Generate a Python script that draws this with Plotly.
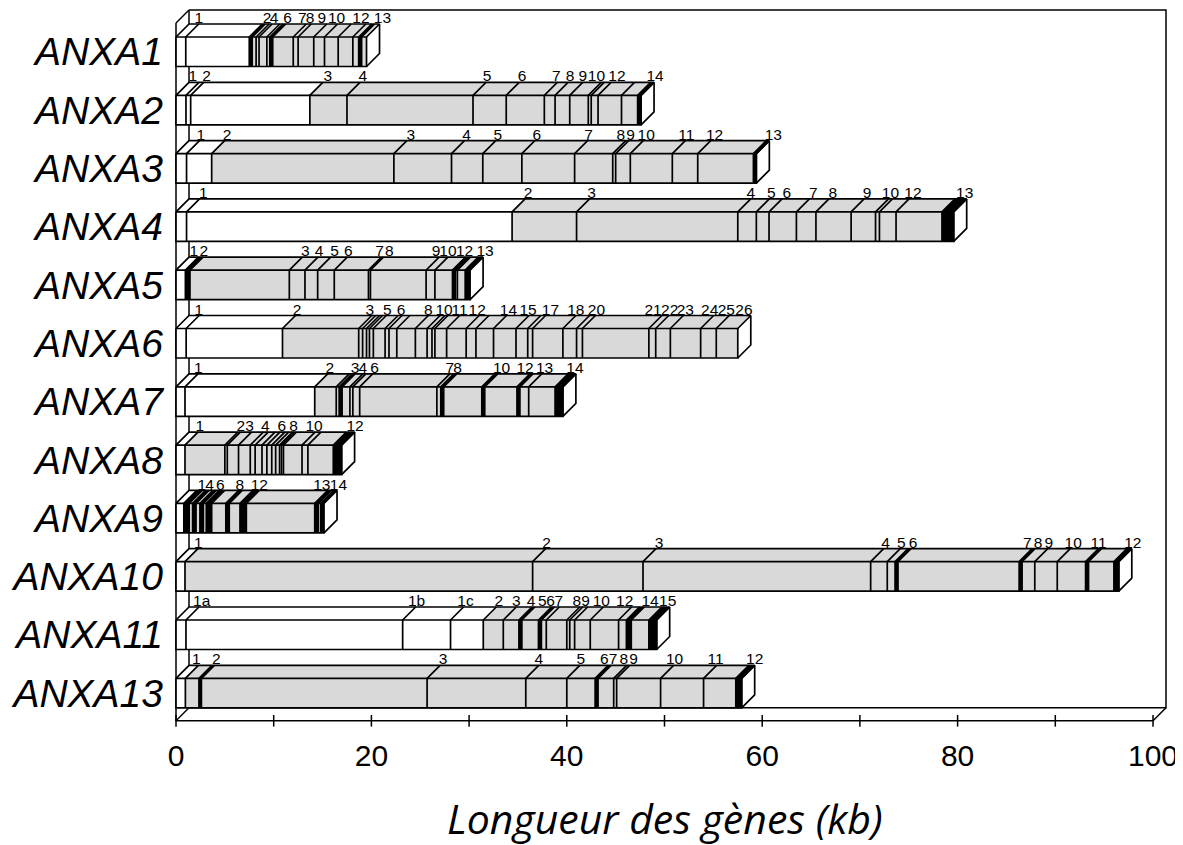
import plotly.graph_objects as go

# ---------------- data (kb) ----------------
GENES = ["ANXA1", "ANXA2", "ANXA3", "ANXA4", "ANXA5", "ANXA6",
         "ANXA7", "ANXA8", "ANXA9", "ANXA10", "ANXA11", "ANXA13"]

GENE_LENGTH = [19.5, 47.6, 59.4, 79.6, 30.1, 57.5, 39.6, 16.95, 15.15, 96.5, 49.2, 57.9]

# end of the white (non-coding) part of each gene
NONCODING_END = [7.6, 13.7, 3.65, 34.4, 0.96, 10.9, 14.2, 0.92, 0.8, 0.92, 31.45, 0.96]

# exon boundaries drawn as thin lines
EXON_LINES = [
    [1.0, 8.2, 8.5, 9.3, 12.0, 12.5, 14.1, 15.2, 16.6, 18.1],
    [1.02, 1.5, 13.7, 17.5, 30.4, 33.8, 37.7, 38.8, 40.3, 42.2, 42.5, 43.2, 45.6],
    [1.08, 3.65, 22.3, 28.2, 31.4, 35.4, 40.8, 44.7, 45.0, 46.5, 50.8, 53.4],
    [1.08, 34.4, 41.0, 57.5, 59.4, 60.7, 63.5, 65.5, 69.1, 71.6, 72.0, 73.7],
    [11.6, 13.2, 14.5, 16.2, 19.7, 19.9, 25.6, 26.5, 28.8],
    [1.04, 10.9, 18.7, 19.1, 19.5, 19.8, 20.2, 21.4, 21.8, 22.6, 24.5, 25.7, 26.2,
     26.5, 27.7, 29.7, 30.7, 32.5, 34.8, 36.0, 36.5, 39.6, 41.0, 41.6, 48.4, 49.1,
     50.6, 53.7, 55.3],
    [0.92, 14.2, 16.4, 17.8, 18.1, 18.8, 26.7, 36.1],
    [0.92, 5.0, 5.25, 6.4, 7.6, 8.1, 8.8, 9.3, 9.8, 10.2, 10.6, 10.8, 11.0, 12.9, 13.5],
    [],
    [0.92, 36.5, 47.8, 71.1, 72.8, 87.9, 90.2],
    [1.02, 23.2, 28.1, 31.45, 33.5, 37.9, 40.0, 40.3, 40.8, 42.4, 45.3, 46.6],
    [0.96, 25.7, 35.8, 40.0, 44.8, 45.1, 49.6, 54.0],
]

# black (solid) exons: (start, end)
BLACK_EXONS = [
    [(7.5, 7.8), (9.6, 9.9), (18.7, 19.0)],
    [(47.25, 47.6)],
    [(59.1, 59.4)],
    [(78.4, 79.6)],
    [(0.96, 1.43), (28.3, 28.6), (29.6, 30.0)],
    [],
    [(16.7, 17.0), (27.1, 27.4), (31.3, 31.6), (34.9, 35.2), (38.8, 39.6)],
    [(16.1, 16.95)],
    [(0.8, 1.35), (1.7, 2.05), (2.45, 2.8), (3.1, 3.65), (5.1, 5.45), (6.55, 7.2),
     (14.2, 14.55), (14.8, 15.05)],
    [(73.6, 73.9), (86.3, 86.6), (93.1, 93.4), (96.0, 96.5)],
    [(35.1, 35.4), (37.1, 37.4), (46.1, 46.5), (48.4, 49.2)],
    [(2.35, 2.6), (42.9, 43.2), (57.3, 57.9)],
]

# exon numbers and where they sit (kb)
EXON_LABELS = [
    [("1", 1.0), ("2", 8.0), ("4", 8.7), ("6", 10.1), ("7", 11.6), ("8", 12.4),
     ("9", 13.6), ("10", 15.1), ("12", 17.6), ("13", 19.8)],
    [("1", 0.38), ("2", 1.81), ("3", 14.2), ("4", 17.8), ("5", 30.5), ("6", 34.1),
     ("7", 37.6), ("8", 39.0), ("9", 40.3), ("10", 41.7), ("12", 43.8), ("14", 47.7)],
    [("1", 1.2), ("2", 3.9), ("3", 22.7), ("4", 28.4), ("5", 31.6), ("6", 35.6),
     ("7", 40.9), ("8", 44.2), ("9", 45.2), ("10", 46.8), ("11", 50.9), ("12", 53.8),
     ("13", 59.8)],
    [("1", 1.46), ("2", 34.7), ("3", 41.2), ("4", 57.5), ("5", 59.6), ("6", 61.2),
     ("7", 63.9), ("8", 65.9), ("9", 69.4), ("10", 71.8), ("12", 74.1), ("13", 79.4)],
    [("1", 0.49), ("2", 1.51), ("3", 11.9), ("4", 13.3), ("5", 14.9), ("6", 16.3),
     ("7", 19.5), ("8", 20.5), ("9", 25.3), ("10", 26.5), ("12", 28.2), ("13", 30.3)],
    [("1", 1.0), ("2", 11.05), ("3", 18.5), ("5", 20.3), ("6", 21.7), ("8", 24.5),
     ("10", 26.1), ("11", 27.7), ("12", 29.5), ("14", 32.7), ("15", 34.7), ("17", 37.0),
     ("18", 39.6), ("20", 41.7), ("21", 47.5), ("22", 49.2), ("23", 50.8), ("24", 53.3),
     ("25", 55.0), ("26", 56.8)],
    [("1", 0.95), ("2", 14.4), ("3", 17.0), ("4", 17.8), ("6", 19.0), ("7", 26.7),
     ("8", 27.5), ("10", 32.0), ("12", 34.4), ("13", 36.4), ("14", 39.5)],
    [("1", 1.1), ("2", 5.3), ("3", 6.2), ("4", 7.8), ("6", 9.5), ("8", 10.7),
     ("10", 12.8), ("12", 17.0)],
    [("1", 1.3), ("4", 2.1), ("6", 3.2), ("8", 5.2), ("12", 7.2), ("13", 13.6), ("14", 15.3)],
    [("1", 0.95), ("2", 36.6), ("3", 48.1), ("4", 71.3), ("5", 72.9), ("6", 74.1),
     ("7", 85.8), ("8", 86.9), ("9", 88.0), ("10", 90.5), ("11", 93.1), ("12", 96.6)],
    [("1a", 1.3), ("1b", 23.3), ("1c", 28.3), ("2", 31.7), ("3", 33.5), ("4", 35.0),
     ("5", 36.15), ("6", 37.0), ("7", 37.85), ("8", 39.7), ("9", 40.6), ("10", 42.2),
     ("12", 44.6), ("14", 47.2), ("15", 49.0)],
    [("1", 0.74), ("2", 2.8), ("3", 26.0), ("4", 35.8), ("5", 40.1), ("6", 42.5),
     ("7", 43.4), ("8", 44.5), ("9", 45.5), ("10", 49.7), ("11", 53.9), ("12", 57.9)],
]

X_TICK_MARKS = [0, 10, 20, 30, 40, 50, 60, 70, 80, 90, 100]
X_TICK_LABELS = [0, 20, 40, 60, 80, 100]
X_TITLE = "Longueur des gènes (kb)"

# ---------------- geometry ----------------
# the page body has an 8 px margin; the figure is sized/offset so the picture fits the window
PAGE_MARGIN = 8
W, H = 1183 - PAGE_MARGIN, 845 - PAGE_MARGIN
PX_PER_KB = 9.77
X_ORIGIN_PX = 176 - PAGE_MARGIN
ROW_PX = 58.3
ROW0_PX = 51.75 - PAGE_MARGIN
DX = 13 / PX_PER_KB          # oblique depth, x (kb)
DY = 13 / ROW_PX             # oblique depth, y (rows)
FH = 29.5 / ROW_PX           # front face height (rows)
GREY = "#d9d9d9"
LW = 1.7

n = len(GENES)
FB = (n - 1) + FH / 2        # floor back edge
FF = FB + DY                 # floor front edge
FT = -FH / 2 - DY - 14 / ROW_PX  # top of back wall
XMAX = 100

lines_x, lines_y = [], []
def seg(pts):
    for x, y in pts:
        lines_x.append(x); lines_y.append(y)
    lines_x.append(None); lines_y.append(None)

fills = {"white": ([], []), "grey": ([], []), "black": ([], [])}
def poly(color, pts):
    xs, ys = fills[color]
    for x, y in pts:
        xs.append(x); ys.append(y)
    xs.append(pts[0][0]); ys.append(pts[0][1])
    xs.append(None); ys.append(None)

def box(color, a, b, yt, yb):
    poly(color, [(a, yt), (b, yt), (b, yb), (a, yb)])
    poly(color, [(a, yt), (a + DX, yt - DY), (b + DX, yt - DY), (b, yt)])

# frame
frame_x, frame_y = [], []
def fseg(pts):
    for x, y in pts:
        frame_x.append(x); frame_y.append(y)
    frame_x.append(None); frame_y.append(None)

fseg([(DX, FT), (XMAX + DX, FT), (XMAX + DX, FB), (DX, FB)])
fseg([(0, FT + DY), (DX, FT)])
fseg([(0, FT + DY), (0, FF), (XMAX, FF), (XMAX + DX, FB)])
fseg([(0, FF), (DX, FB)])
fseg([(DX, FT), (DX, FB)])
for t in X_TICK_MARKS:
    fseg([(t, FF - 0.1), (t, FF + 0.1)])

lab_x, lab_y, lab_t = [], [], []
for i in range(n):
    L = GENE_LENGTH[i]
    w = NONCODING_END[i]
    yt = i - FH / 2
    yb = i + FH / 2
    box("white", 0, w, yt, yb)
    box("grey", w, L, yt, yb)
    poly("white", [(L, yt), (L + DX, yt - DY), (L + DX, yb - DY), (L, yb)])
    for a, b in BLACK_EXONS[i]:
        box("black", a, b, yt, yb)
        seg([(a, yb), (a, yt), (a + DX, yt - DY)])
        seg([(b, yb), (b, yt), (b + DX, yt - DY)])
    for x in EXON_LINES[i]:
        seg([(x, yb), (x, yt), (x + DX, yt - DY)])
    seg([(0, yt), (L, yt), (L, yb), (0, yb), (0, yt)])
    seg([(0, yt), (DX, yt - DY), (L + DX, yt - DY), (L, yt)])
    seg([(L + DX, yt - DY), (L + DX, yb - DY), (L, yb)])
    for txt, pos in EXON_LABELS[i]:
        lab_x.append(pos + DX); lab_y.append(yt - DY + 3 / ROW_PX); lab_t.append(txt)

fig = go.Figure()
fig.add_trace(go.Scatter(x=frame_x, y=frame_y, mode="lines",
                         line=dict(color="black", width=1.5), hoverinfo="skip"))
fig.add_trace(go.Scatter(x=fills["grey"][0], y=fills["grey"][1], mode="none",
                         fill="toself", fillcolor=GREY, hoverinfo="skip"))
fig.add_trace(go.Scatter(x=fills["white"][0], y=fills["white"][1], mode="none",
                         fill="toself", fillcolor="white", hoverinfo="skip"))
fig.add_trace(go.Scatter(x=fills["black"][0], y=fills["black"][1], mode="none",
                         fill="toself", fillcolor="black", hoverinfo="skip"))
fig.add_trace(go.Scatter(x=lines_x, y=lines_y, mode="lines",
                         line=dict(color="black", width=LW), hoverinfo="skip"))
fig.add_trace(go.Scatter(x=lab_x, y=lab_y, text=lab_t, mode="text",
                         textposition="top center", cliponaxis=False,
                         textfont=dict(family="Liberation Sans Narrow, Arial Narrow, Liberation Sans, Arial",
                                       size=15.5, color="black"),
                         hoverinfo="skip"))

fig.update_layout(
    width=W, height=H, margin=dict(l=0, r=0, t=0, b=0),
    paper_bgcolor="white", plot_bgcolor="white", showlegend=False,
    xaxis=dict(range=[-X_ORIGIN_PX / PX_PER_KB, (W - X_ORIGIN_PX) / PX_PER_KB],
               anchor="free", position=1 - (ROW0_PX + FF * ROW_PX) / H,
               showgrid=False, zeroline=False, showline=False, ticks="",
               tickvals=X_TICK_LABELS, ticktext=[str(v) for v in X_TICK_LABELS],
               tickfont=dict(family="Liberation Sans, Arial", size=30, color="black"),
               ticklabelstandoff=14, fixedrange=True),
    yaxis=dict(range=[(H - ROW0_PX) / ROW_PX, -ROW0_PX / ROW_PX],
               anchor="free", position=X_ORIGIN_PX / W,
               showgrid=False, zeroline=False, showline=False, ticks="",
               tickvals=list(range(n)), ticktext=GENES,
               tickfont=dict(family="Liberation Sans, Arial", size=39, color="black",
                             style="italic"),
               ticklabelstandoff=13, fixedrange=True),
    annotations=[dict(text=X_TITLE, xref="paper", yref="paper",
                      x=(665 - PAGE_MARGIN) / W, y=1 - (818 - PAGE_MARGIN) / H,
                      xanchor="center", yanchor="middle", showarrow=False,
                      font=dict(family="Open Sans", size=41, color="black", style="italic"))],
)

fig.write_html("out.html")
